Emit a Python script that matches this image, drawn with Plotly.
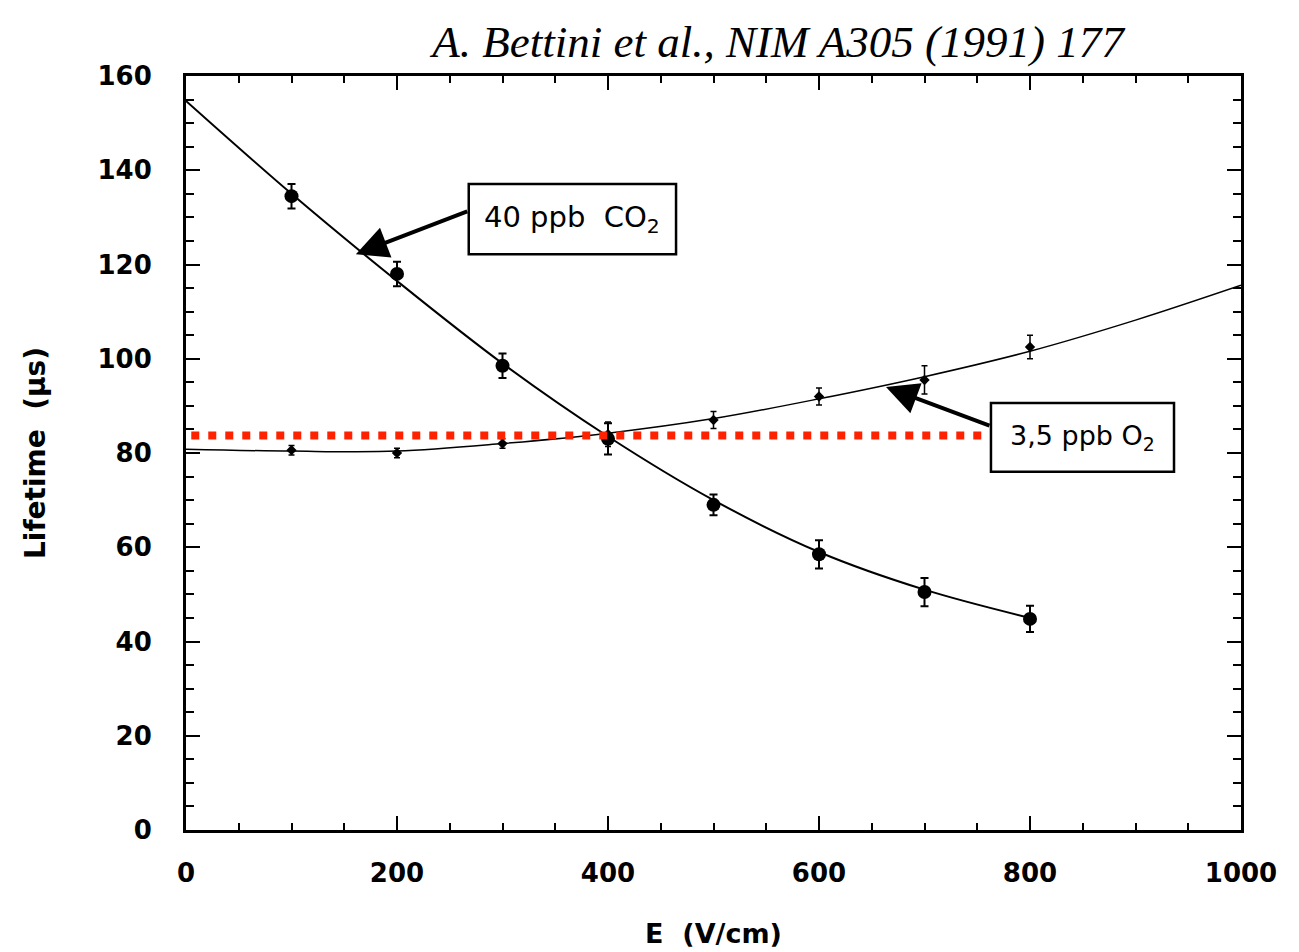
import plotly.graph_objects as go

# ---- data ----
E_points = [100, 200, 300, 400, 500, 600, 700, 800]
co2_life = [134.5, 118.0, 98.5, 83.0, 69.0, 58.5, 50.5, 44.8]
co2_err = [2.6, 2.6, 2.6, 3.3, 2.2, 3.0, 3.0, 2.8]
o2_life = [80.6, 80.0, 82.0, 84.0, 87.0, 92.0, 95.5, 102.5]
o2_err = [1.0, 1.0, 1.0, 2.6, 1.8, 1.8, 3.0, 2.5]

E_fit_co2 = [0, 100, 200, 300, 400, 500, 600, 700, 800]
co2_fit = [154.7, 135.0, 116.5, 99.0, 83.5, 70.0, 59.0, 51.0, 45.0]
E_fit_o2 = [0, 100, 200, 300, 400, 500, 600, 700, 800, 900, 1000]
o2_fit = [80.8, 80.4, 80.4, 82.0, 84.2, 87.3, 91.5, 96.2, 101.6, 108.2, 115.6]

ref_level = 83.7
ref_E = [5, 760]

x_ticks = [0, 200, 400, 600, 800, 1000]
y_ticks = [0, 20, 40, 60, 80, 100, 120, 140, 160]

title_text = "A. Bettini et al., NIM A305 (1991) 177"
x_title = "E  (V/cm)"
y_title = "Lifetime  (µs)"
label_co2 = "40 ppb  CO<sub>2</sub>"
label_o2 = "3,5 ppb O<sub>2</sub>"

fig = go.Figure()

# fit curves
fig.add_trace(go.Scatter(x=E_fit_co2, y=co2_fit, mode="lines", line=dict(color="black", width=2, shape="spline"),
                         showlegend=False, hoverinfo="skip"))
fig.add_trace(go.Scatter(x=E_fit_o2, y=o2_fit, mode="lines", line=dict(color="black", width=1.5, shape="spline"),
                         showlegend=False, hoverinfo="skip"))

# data points
fig.add_trace(go.Scatter(x=E_points, y=co2_life, mode="markers",
                         marker=dict(color="black", size=14, symbol="circle"),
                         error_y=dict(type="data", array=co2_err, color="black", thickness=2, width=4),
                         showlegend=False))
fig.add_trace(go.Scatter(x=E_points, y=o2_life, mode="markers",
                         marker=dict(color="black", size=8, symbol="diamond"),
                         error_y=dict(type="data", array=o2_err, color="black", thickness=1.5, width=3),
                         showlegend=False))

# red dotted reference line
fig.add_trace(go.Scatter(x=ref_E, y=[ref_level, ref_level], mode="lines",
                         line=dict(color="#ff2200", width=8, dash="8px,9px"),
                         showlegend=False, hoverinfo="skip"))

# label boxes
fig.add_shape(type="rect", x0=268, x1=464.5, y0=122.2, y1=137.1, xref="x", yref="y",
              line=dict(color="black", width=2.5), fillcolor="white", layer="above")
fig.add_shape(type="rect", x0=763, x1=936.5, y0=76.0, y1=90.6, xref="x", yref="y",
              line=dict(color="black", width=2.5), fillcolor="white", layer="above")

fig.add_annotation(x=366, y=129.6, xref="x", yref="y", text=label_co2, showarrow=False,
                   font=dict(family="DejaVu Sans", size=29, color="black"))
fig.add_annotation(x=850, y=83.3, xref="x", yref="y", text=label_o2, showarrow=False,
                   font=dict(family="DejaVu Sans", size=27, color="black"))

# arrows
fig.add_annotation(x=161, y=122.2, ax=268, ay=131.4, xref="x", yref="y", axref="x", ayref="y",
                   text="", showarrow=True, arrowhead=2, arrowsize=1.6, arrowwidth=4, arrowcolor="black")
fig.add_annotation(x=663.5, y=94.0, ax=763, ay=85.7, xref="x", yref="y", axref="x", ayref="y",
                   text="", showarrow=True, arrowhead=2, arrowsize=1.6, arrowwidth=4, arrowcolor="black")

tickfont = dict(family="DejaVu Sans", size=26, color="black", weight="bold")

fig.update_layout(
    width=1299, height=952,
    paper_bgcolor="white", plot_bgcolor="white",
    margin=dict(l=178, r=66, t=68, b=130, autoexpand=False),
    title=dict(text=title_text, x=(777 - 7) / 1299, y=1 - 33 / 952, xanchor="center", yanchor="middle",
               font=dict(family="Liberation Serif", size=45, color="black", style="italic")),
    xaxis=dict(range=[0, 1000], tickvals=x_ticks, ticks="inside", ticklen=14, tickwidth=2,
               tickcolor="black", showline=True, linecolor="black", linewidth=2.5, mirror="allticks",
               showgrid=False, zeroline=False, tickfont=tickfont, ticklabelstandoff=18,
               minor=dict(dtick=50, ticks="inside", ticklen=7, tickwidth=1.5, tickcolor="black", showgrid=False),
               title=dict(text=x_title, font=dict(family="DejaVu Sans", size=27, color="black", weight="bold"),
                          standoff=38)),
    yaxis=dict(range=[0, 160], tickvals=y_ticks, ticks="inside", ticklen=14, tickwidth=2,
               tickcolor="black", showline=True, linecolor="black", linewidth=3, mirror="allticks",
               showgrid=False, zeroline=False, tickfont=tickfont, ticklabelstandoff=26,
               minor=dict(dtick=5, ticks="inside", ticklen=8, tickwidth=1.5, tickcolor="black", showgrid=False),
               title=dict(text=y_title, font=dict(family="DejaVu Sans", size=28, color="black", weight="bold"),
                          standoff=44)),
)

fig.write_html("out.html")
